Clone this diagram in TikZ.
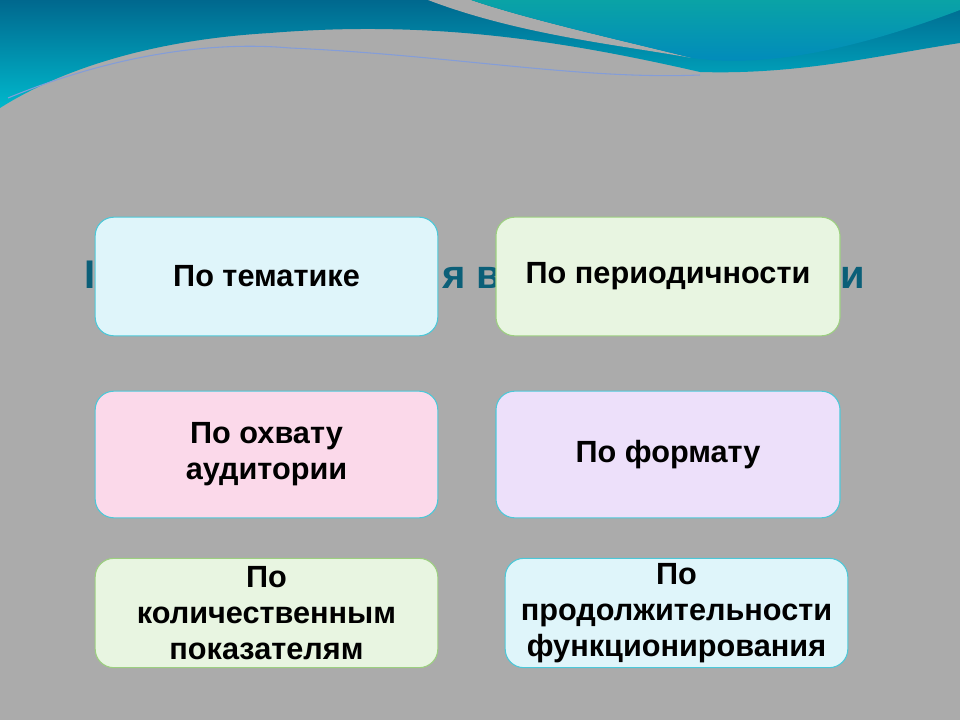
\documentclass[tikz,border=0pt]{standalone}
\usepackage{fontspec}
\setmainfont{Liberation Sans}
\definecolor{ttlc}{HTML}{0B5F78}
\definecolor{bgc}{HTML}{ABABAB}
\definecolor{fcyan}{HTML}{DFF5FA}
\definecolor{fgreen}{HTML}{E8F5E1}
\definecolor{fpink}{HTML}{FBD9EA}
\definecolor{flav}{HTML}{EDE0FA}
\definecolor{bcyan}{HTML}{4CC8D8}
\definecolor{bgreen}{HTML}{9CCF80}
\definecolor{wdark}{HTML}{00688E}
\definecolor{wlow}{HTML}{00B8CC}
\definecolor{wl1}{HTML}{0AA3A6}
\definecolor{wl2}{HTML}{0088BE}
\begin{document}
\begin{tikzpicture}[x=0.75pt,y=-0.75pt,
  box/.style={rounded corners=14pt,line width=0.8pt,align=center,font=\bfseries\fontsize{23}{27}\selectfont},
  ttl/.style={font=\bfseries\fontsize{30}{34}\selectfont,text=ttlc,anchor=base}]
\fill[bgc] (0,0) rectangle (960,720);
\useasboundingbox (0,0) rectangle (960,720);
\shade[top color=wdark, bottom color=wlow]
  (0,0) -- (960,0) -- (960,43) .. controls (880,55) and (800,75) .. (700,72)
  .. controls (560,40) and (430,20) .. (270,33)
  .. controls (150,40) and (60,70) .. (0,108) -- cycle;
\fill[bgc] (428,0) .. controls (520,35) and (620,45) .. (692,58)
  .. controls (620,40) and (530,20) .. (471,0) -- cycle;
\shade[top color=wl1, bottom color=wl2]
  (471,0) .. controls (530,20) and (620,40) .. (692,58)
  .. controls (780,70) and (880,40) .. (960,10) -- (960,0) -- cycle;
\draw[cyan!40!blue!50!white,line width=0.8pt] (8,98) .. controls (100,60) and (200,40) .. (290,48)
  .. controls (450,55) and (580,80) .. (700,75);
\node[ttl] (t1) at (90,288) {I};
\node[ttl] (t2) at (472,288) {я в};
\node[ttl] (t3) at (853,288) {и};
\node[box,draw=bcyan,fill=fcyan,minimum width=257pt,minimum height=89pt] (b1) at (266.5,276.5) {По тематике};
\node[box,draw=bgreen,fill=fgreen,minimum width=258pt,minimum height=89pt] (b2) at (668,276.5) {По периодичности};
\node[box,draw=bcyan,fill=fpink,minimum width=257pt,minimum height=95pt] (b3) at (266.5,454.5) {По охвату\\аудитории};
\node[box,draw=bcyan,fill=flav,minimum width=258pt,minimum height=95pt] (b4) at (668,454.5) {По формату};
\node[box,draw=bgreen,fill=fgreen,minimum width=257pt,minimum height=82pt] (b5) at (266.5,613) {По\\количественным\\показателям};
\node[box,draw=bcyan,fill=fcyan,minimum width=257pt,minimum height=82pt] (b6) at (676.5,613) {По\\продолжительности\\функционирования};
\end{tikzpicture}
\end{document}
